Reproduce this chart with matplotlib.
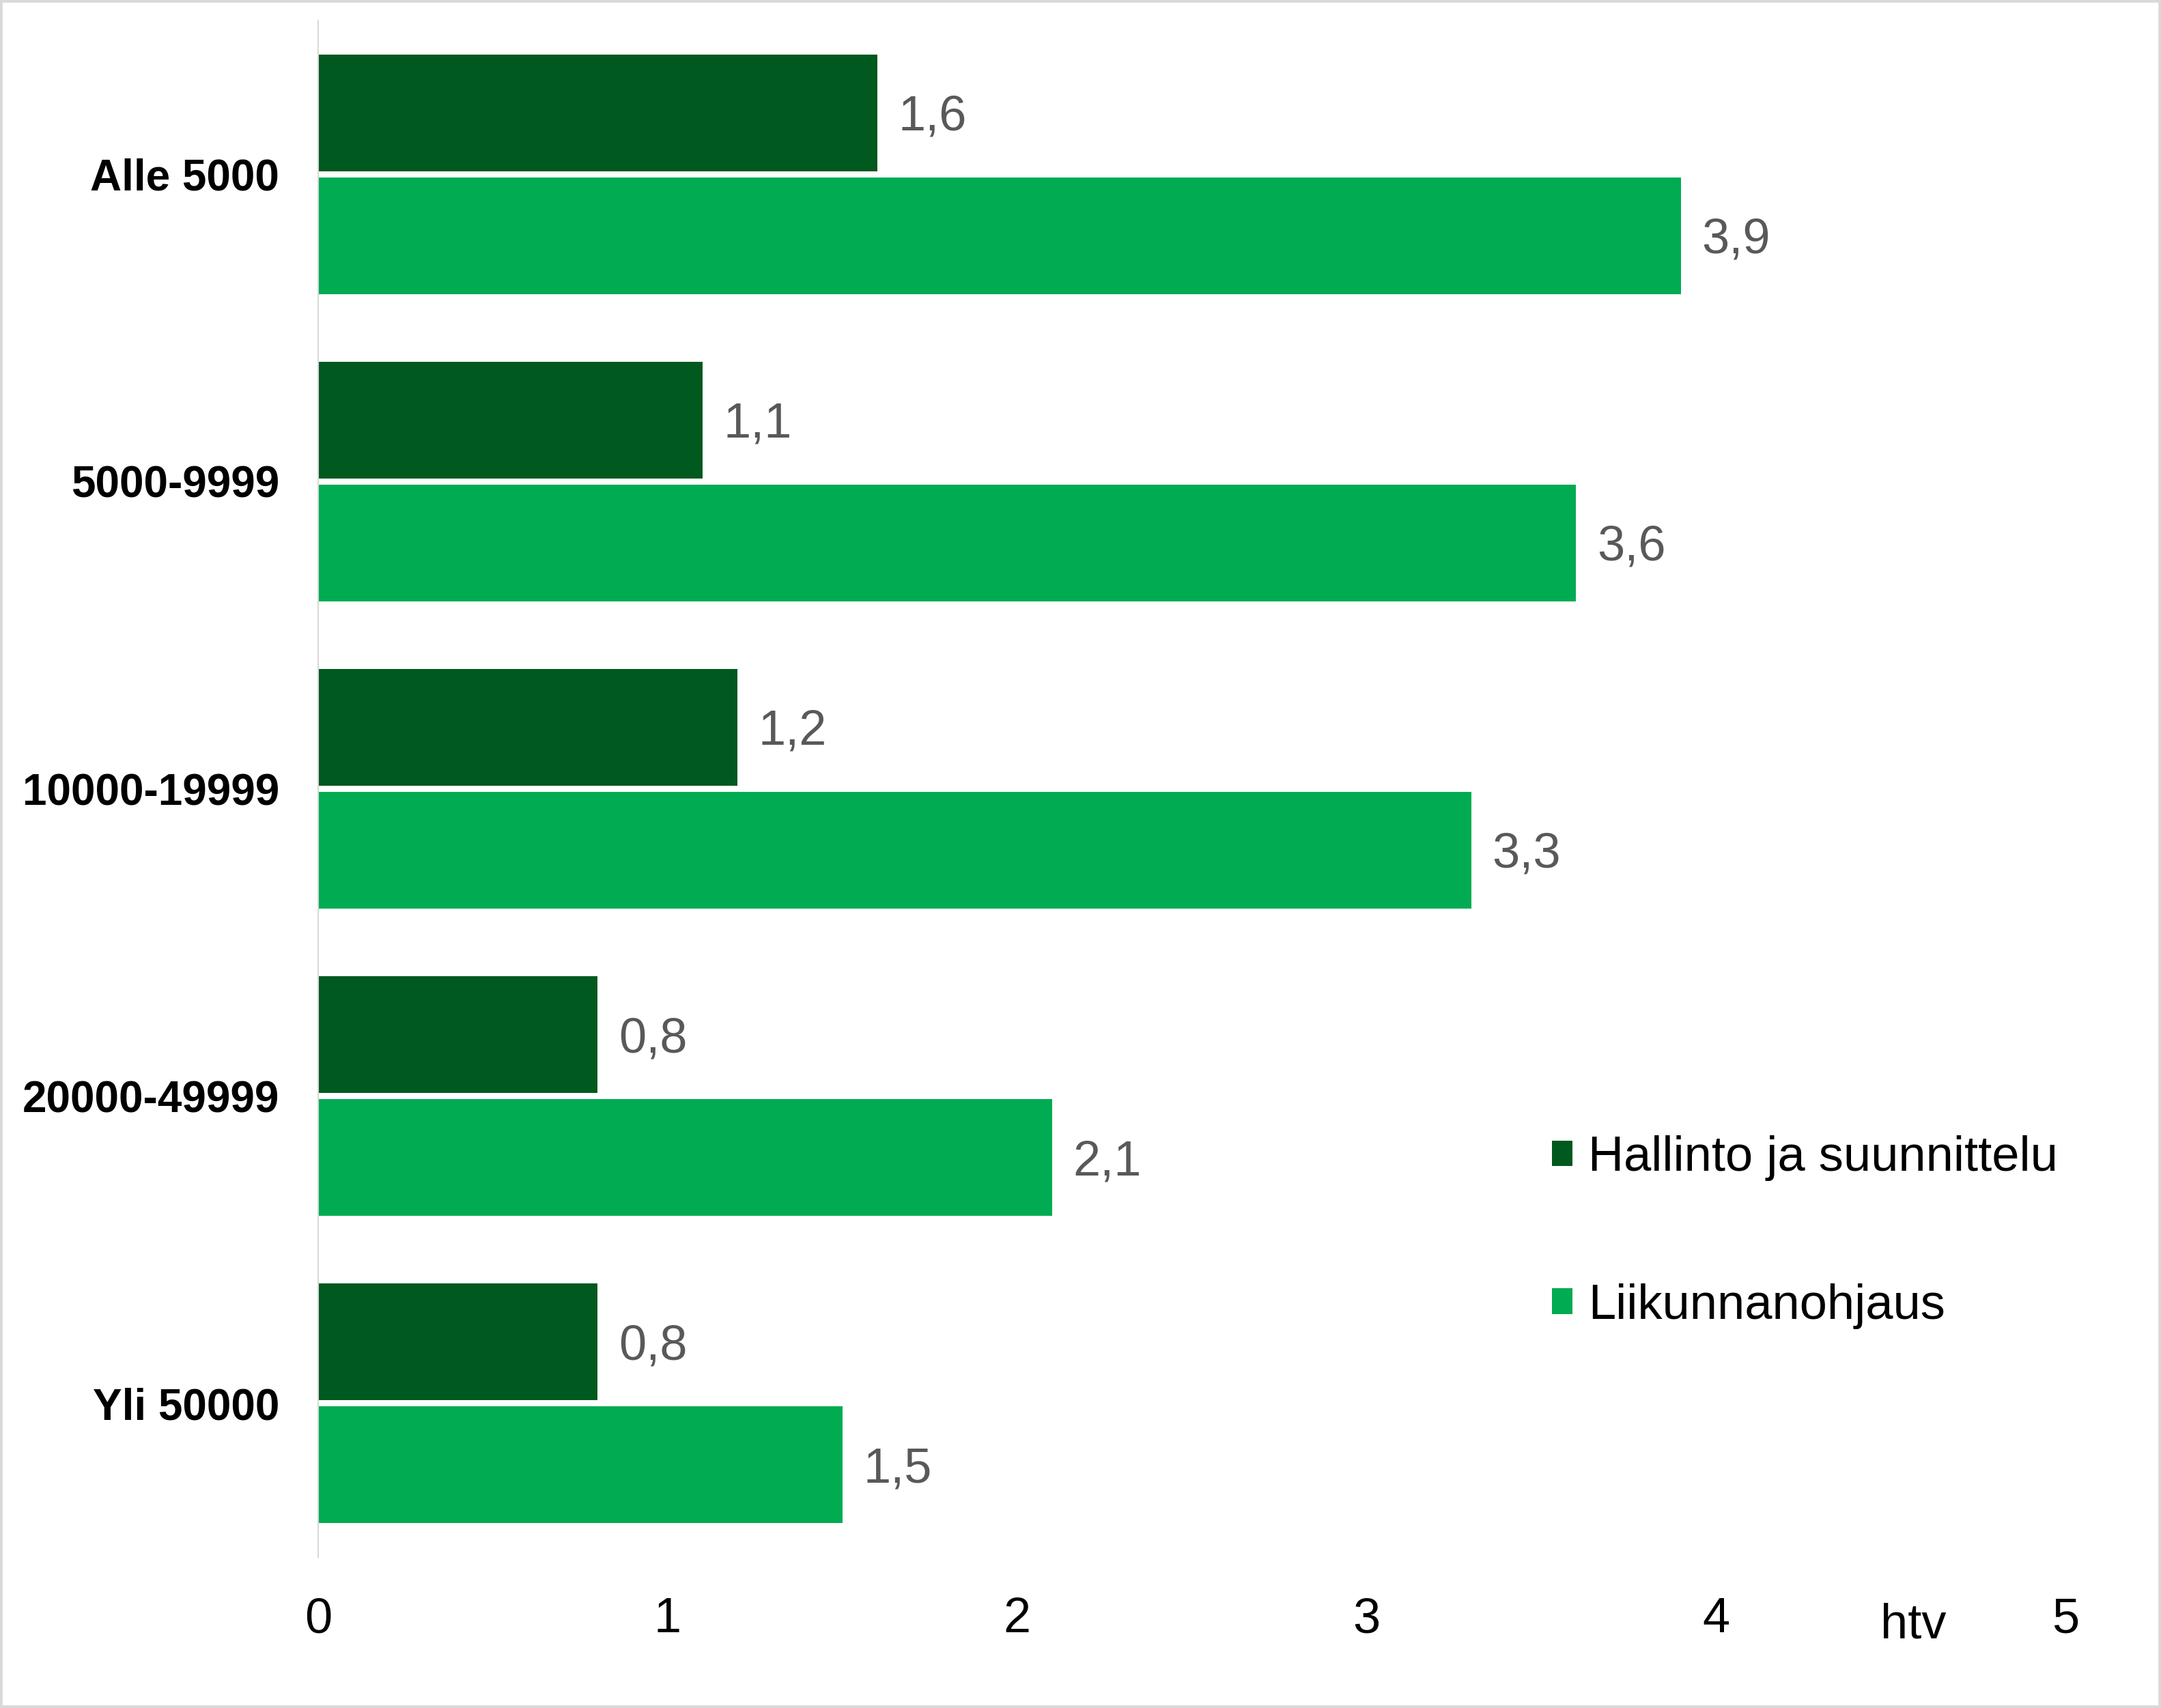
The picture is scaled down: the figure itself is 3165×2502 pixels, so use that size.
import matplotlib
matplotlib.use("Agg")
import matplotlib.pyplot as plt
from matplotlib.patches import Rectangle
import numpy as np

categories = ["Alle 5000", "5000-9999", "10000-19999", "20000-49999", "Yli 50000"]
series_names = ["Hallinto ja suunnittelu", "Liikunnanohjaus"]
hallinto = [1.6, 1.1, 1.2, 0.8, 0.8]
liikunta = [3.9, 3.6, 3.3, 2.1, 1.5]
xticks = [0, 1, 2, 3, 4, 5]
unit_label = "htv"

dark = "#00591E"
light = "#00AB52"

plt.rcParams['font.family'] = ['Liberation Sans', 'DejaVu Sans']

W, H = 3165, 2502
fig = plt.figure(figsize=(W / 100, H / 100), dpi=100)
fig.patch.set_facecolor("white")

ax = fig.add_axes([466 / W, 1 - 2281 / H, (3025 - 466) / W, (2281 - 30) / H])

y = np.arange(len(categories))
bh = 0.38
off = 0.2
b1 = ax.barh(y - off, hallinto, height=bh, color=dark, label=series_names[0])
b2 = ax.barh(y + off, liikunta, height=bh, color=light, label=series_names[1])

def fmt(v):
    return f"{v:.1f}".replace(".", ",")

for bars, vals in ((b1, hallinto), (b2, liikunta)):
    for rect, v in zip(bars, vals):
        ax.annotate(fmt(v), (v, rect.get_y() + rect.get_height() / 2),
                    xytext=(22, -5), textcoords="offset points",
                    va="center", ha="left", fontsize=52, color="#595959")

ax.set_xlim(0, 5)
ax.set_ylim(len(categories) - 0.5, -0.5)
ax.set_xticks(xticks)
ax.set_xticklabels([str(t) for t in xticks], fontsize=52)
ax.set_yticks(y)
ax.set_yticklabels(categories, fontsize=46, fontweight="bold")
ax.tick_params(axis="x", length=0, pad=42)
ax.tick_params(axis="y", length=0, pad=41)

for s in ("top", "right", "bottom"):
    ax.spines[s].set_visible(False)
ax.spines["left"].set_color("#d9d9d9")
ax.spines["left"].set_linewidth(1.5)

ax.text(4.565, -0.0525, unit_label, transform=ax.get_xaxis_transform(),
        ha="center", va="baseline", fontsize=52, color="black")

leg = ax.legend(loc="center left", bbox_to_anchor=(2273 / W, 1 - 1805 / H),
                bbox_transform=fig.transFigure, frameon=False, fontsize=52,
                handlelength=0.42, handleheight=0.42, handletextpad=0.32,
                labelspacing=2.07, borderpad=0, borderaxespad=0)

fig.patches.append(Rectangle((0, 0), 1, 1, transform=fig.transFigure,
                             fill=False, edgecolor="#d9d9d9", linewidth=5.5,
                             zorder=10))

fig.savefig("out.png", dpi=100, facecolor="white")
